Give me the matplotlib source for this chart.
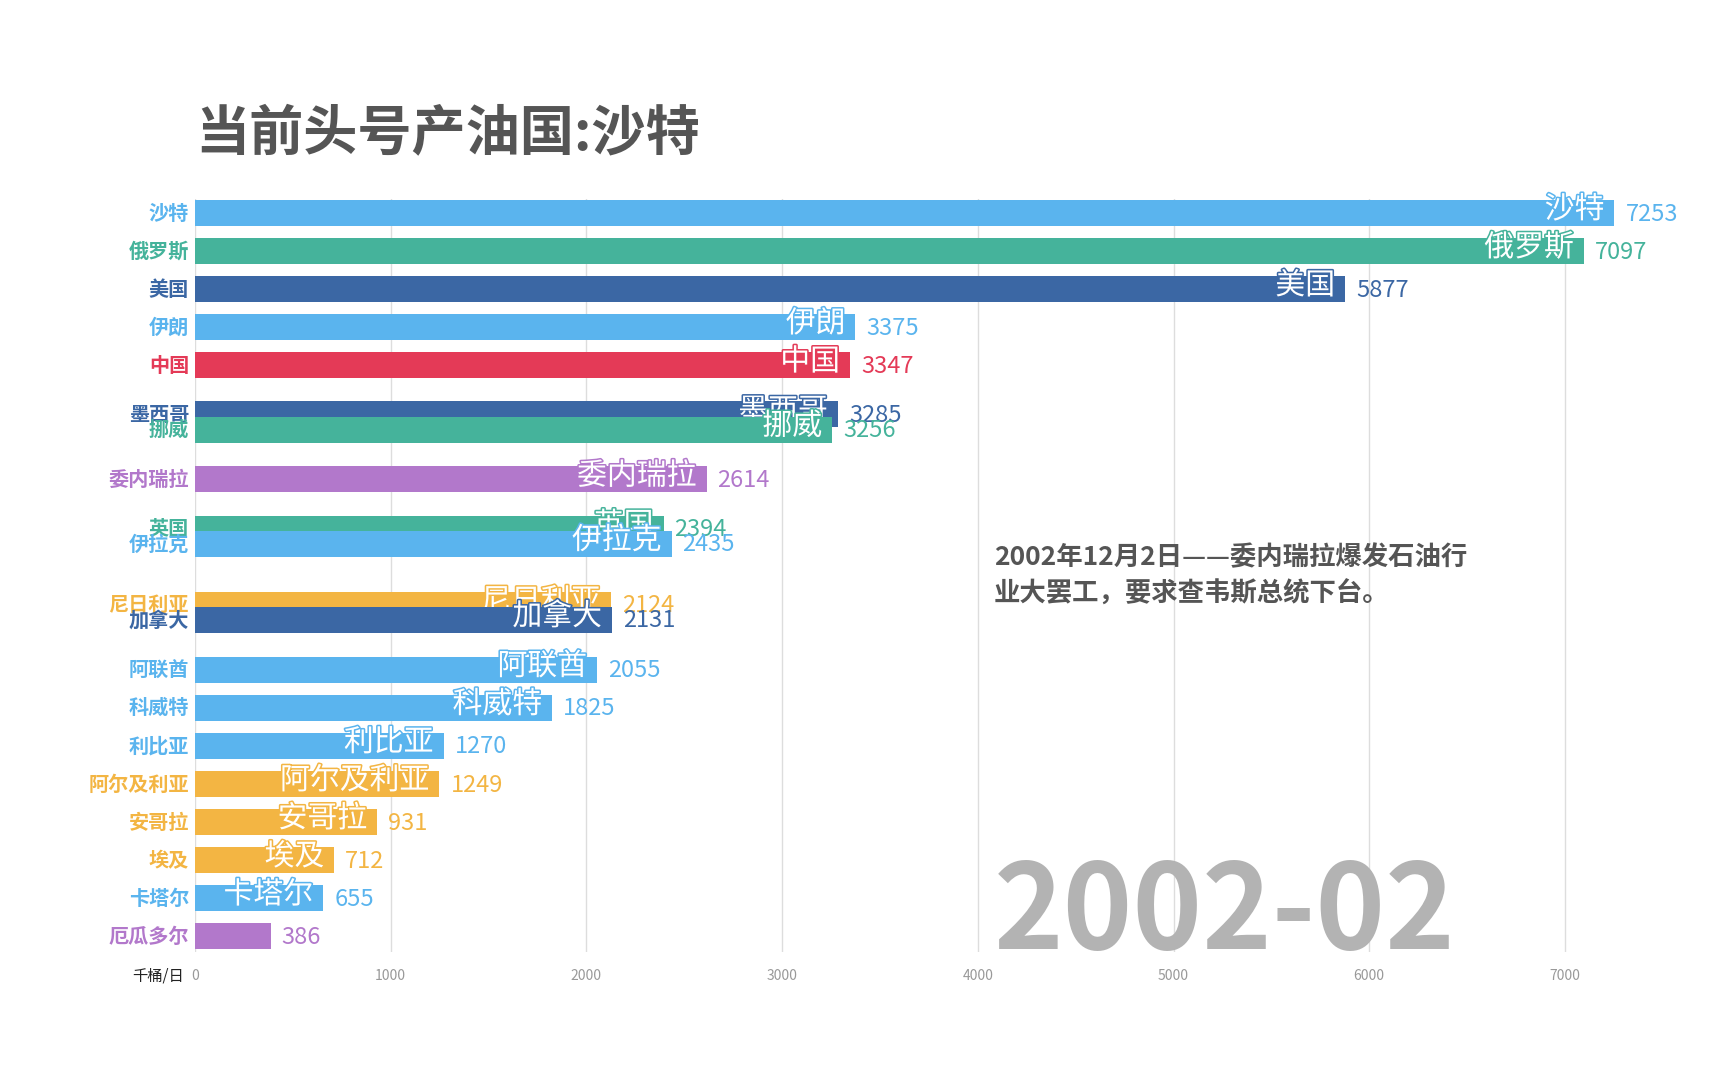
import matplotlib
matplotlib.use('Agg')
import matplotlib.pyplot as plt
import matplotlib.patheffects as pe

plt.rcParams['font.family'] = ['Noto Sans CJK SC', 'DejaVu Sans']

# ---------------- data ----------------
countries = ["沙特", "俄罗斯", "美国", "伊朗", "中国", "墨西哥", "挪威", "委内瑞拉",
             "英国", "伊拉克", "尼日利亚", "加拿大", "阿联酋", "科威特", "利比亚",
             "阿尔及利亚", "安哥拉", "埃及", "卡塔尔", "厄瓜多尔"]
values = [7253, 7097, 5877, 3375, 3347, 3285, 3256, 2614,
          2394, 2435, 2124, 2131, 2055, 1825, 1270,
          1249, 931, 712, 655, 386]
# animated rank positions (frame caught mid-swap)
ranks = [0, 1, 2, 3, 4, 5.29, 5.69, 7,
         8.29, 8.69, 10.29, 10.69, 12, 13, 14,
         15, 16, 17, 18, 19]
groups = ["lb", "gr", "db", "lb", "rd", "db", "gr", "pu",
          "gr", "lb", "or", "db", "lb", "lb", "lb",
          "or", "or", "or", "lb", "pu"]
palette = {"lb": "#5AB4EE", "gr": "#45B39B", "db": "#3B67A4",
           "rd": "#E43A57", "pu": "#B278CB", "or": "#F3B543"}

title = "当前头号产油国:沙特"
date_label = "2002-02"
event_lines = ["2002年12月2日——委内瑞拉爆发石油行", "业大罢工，要求查韦斯总统下台。"]
x_ticks = [0, 1000, 2000, 3000, 4000, 5000, 6000, 7000]
unit_label = "千桶/日"

# ---------------- layout ----------------
W, H = 1726, 1079
fig = plt.figure(figsize=(W / 100, H / 100), dpi=100)
fig.patch.set_facecolor('white')

ax_left, ax_right, ax_top, ax_bottom = 195, 1700, 199.3, 952.3
ax = fig.add_axes([ax_left / W, 1 - ax_bottom / H,
                   (ax_right - ax_left) / W, (ax_bottom - ax_top) / H])
px_per_unit = 195.7 / 1000
ax.set_xlim(0, (ax_right - ax_left) / px_per_unit)
ax.set_ylim(19.42, -0.36)

for s in ax.spines.values():
    s.set_visible(False)
ax.set_yticks([])
ax.set_xticks(x_ticks)
ax.set_xticklabels([str(t) for t in x_ticks])
ax.tick_params(axis='x', length=0, pad=12, labelsize=10, labelcolor='#999999')
ax.grid(axis='x', color='#DDDDDD', linewidth=1)
ax.set_axisbelow(True)

PT = 72 / 100  # points per pixel
inner_fs = 21.5
for i, (name, v, r, g) in enumerate(zip(countries, values, ranks, groups)):
    c = palette[g]
    z = 2 + i * 0.01
    ax.barh(r, v, height=0.683, color=c, zorder=z)
    # inside label (white with bar-coloured outline) if it fits
    text_px = inner_fs / PT * len(name)
    if text_px + 14 < v * px_per_unit:
        ax.annotate(name, xy=(v, r), xytext=(-10 * PT, 3.5 * PT),
                    textcoords='offset points', ha='right', va='center',
                    fontsize=inner_fs, color='white', zorder=z + 0.001,
                    annotation_clip=False,
                    path_effects=[pe.withStroke(linewidth=2.2, foreground=c)])
    # value label
    ax.annotate(str(v), xy=(v, r), xytext=(11 * PT, -1 * PT),
                textcoords='offset points', ha='left', va='center',
                fontsize=17, color=c, zorder=z + 0.002, annotation_clip=False)
    # left category label
    ax.annotate(name, xy=(0, r), xytext=(-6 * PT, 0),
                textcoords='offset points', ha='right', va='center',
                fontsize=14.5, fontweight='bold', color=c, zorder=z + 0.003,
                annotation_clip=False)

# title
fig.text(195 / W, 1 - 135 / H, title, fontsize=39, fontweight='bold',
         color='#555555', ha='left', va='center')

# event annotation
fig.text(994 / W, 1 - 558 / H, event_lines[0], fontsize=19, fontweight='bold',
         color='#555555', ha='left', va='center')
fig.text(994 / W, 1 - 594 / H, event_lines[1], fontsize=19, fontweight='bold',
         color='#555555', ha='left', va='center')

# big date
fig.text(994 / W, 1 - 949 / H, date_label, fontsize=85, fontweight='bold',
         color='#B3B3B3', ha='left', va='baseline')

# unit label
fig.text(184 / W, 1 - 976 / H, unit_label, fontsize=11, color='#222222',
         ha='right', va='center')

fig.savefig('out.png', dpi=100, facecolor='white')
